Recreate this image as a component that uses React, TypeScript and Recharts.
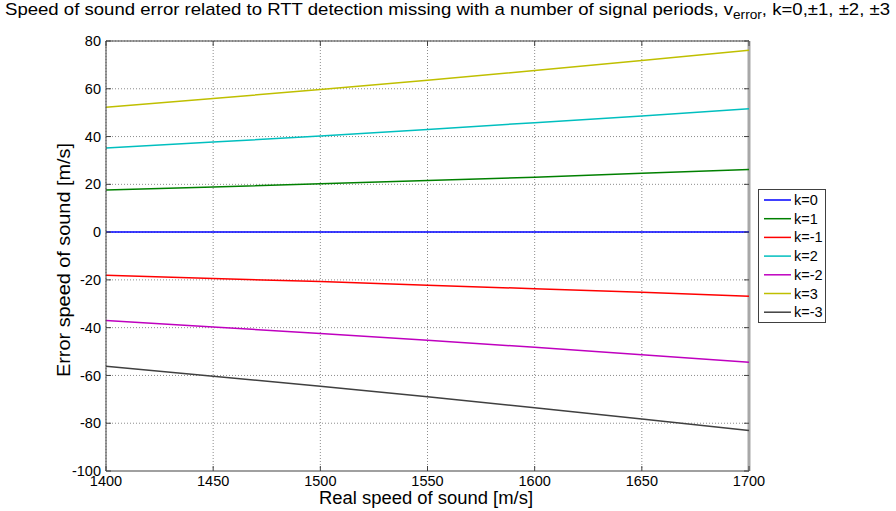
import React from 'react'
import {
  LineChart, Line, XAxis, YAxis, CartesianGrid, Legend, ReferenceLine
} from 'recharts'

// sound speed grid (m/s)
const speeds = [1400, 1450, 1500, 1550, 1600, 1650, 1700]

// error of the speed estimate for each missed-period count k
const kZero = [0, 0, 0, 0, 0, 0, 0]
const kPlus1 = [17.6, 18.9, 20.2, 21.6, 23.0, 24.6, 26.2]
const kMinus1 = [-18.1, -19.4, -20.7, -22.2, -23.7, -25.2, -26.8]
const kPlus2 = [35.2, 37.7, 40.2, 43.0, 45.8, 48.6, 51.6]
const kMinus2 = [-37.0, -39.7, -42.4, -45.3, -48.2, -51.3, -54.5]
const kPlus3 = [52.3, 55.9, 59.7, 63.6, 67.6, 71.8, 76.1]
const kMinus3 = [-56.2, -60.3, -64.5, -68.9, -73.5, -78.2, -83.0]

const xTicks = [1400, 1450, 1500, 1550, 1600, 1650, 1700]
const yTicks = [-100, -80, -60, -40, -20, 0, 20, 40, 60, 80]

const series = [
  { key: 'k0', name: 'k=0', values: kZero, color: '#0000ff' },
  { key: 'k1', name: 'k=1', values: kPlus1, color: '#008000' },
  { key: 'km1', name: 'k=-1', values: kMinus1, color: '#ff0000' },
  { key: 'k2', name: 'k=2', values: kPlus2, color: '#00bfbf' },
  { key: 'km2', name: 'k=-2', values: kMinus2, color: '#bf00bf' },
  { key: 'k3', name: 'k=3', values: kPlus3, color: '#bfbf00' },
  { key: 'km3', name: 'k=-3', values: kMinus3, color: '#404040' },
]

const rows = speeds.map((v, i) => {
  const row: Record<string, number> = { v }
  series.forEach(s => { row[s.key] = s.values[i] })
  return row
})

const W = 896
const H = 511
const M = { top: 41, right: 147, bottom: 0, left: 46 }
const Y_AXIS_W = 60
const X_AXIS_H = 40
const PLOT_W = W - M.left - Y_AXIS_W - M.right
const PLOT_H = H - M.top - X_AXIS_H
const FONT = '"Liberation Sans", Arial, sans-serif'
const TICK_LEN = 5
const TICK_GAP = 5
const LEG_W = 68
const LEG_H = 134
const LEG_ROW = 18.7

function YTick({ x, y, payload }: any) {
  const ax = x + TICK_GAP
  return (
    <g>
      <line x1={ax} x2={ax + TICK_LEN} y1={y} y2={y} stroke="#404040" />
      <line x1={ax + PLOT_W - TICK_LEN} x2={ax + PLOT_W} y1={y} y2={y} stroke="#404040" />
      <text x={x} y={y} dy="0.35em" textAnchor="end" fontSize={14.5} fill="#000" fontFamily={FONT}>
        {payload.value}
      </text>
    </g>
  )
}

function XTick({ x, y, payload }: any) {
  const ay = y - TICK_GAP
  return (
    <g>
      <line x1={x} x2={x} y1={ay} y2={ay - TICK_LEN} stroke="#404040" />
      <line x1={x} x2={x} y1={ay - PLOT_H} y2={ay - PLOT_H + TICK_LEN} stroke="#404040" />
      <text x={x} y={y} dy="0.71em" textAnchor="middle" fontSize={14.5} fill="#000" fontFamily={FONT}>
        {payload.value}
      </text>
    </g>
  )
}

function LegendBox() {
  return (
    <svg width={LEG_W} height={LEG_H} style={{ display: 'block' }}>
      <rect x={0.5} y={0.5} width={LEG_W - 1} height={LEG_H - 1} fill="#fff" stroke="#404040" />
      {series.map((s, i) => {
        const cy = 11 + i * LEG_ROW
        return (
          <g key={s.key}>
            <line x1={6} x2={33} y1={cy} y2={cy} stroke={s.color} strokeWidth={1.5} />
            <text x={36} y={cy} dy="0.35em" fontSize={14.5} fontFamily={FONT} fill="#000">{s.name}</text>
          </g>
        )
      })}
    </svg>
  )
}

export default function App() {
  return (
    <div style={{ position: 'absolute', left: 0, top: 0, width: W, height: H, background: '#fff' }}>
      <LineChart width={W} height={H} data={rows} margin={M}>
        <CartesianGrid stroke="#8c8c8c" strokeDasharray="1 2" />
        <XAxis
          dataKey="v" type="number" domain={[1400, 1700]} ticks={xTicks}
          height={X_AXIS_H} tickSize={0} tickMargin={TICK_GAP} tick={<XTick />}
          axisLine={{ stroke: '#a0a0a0', strokeWidth: 2 }} tickLine={false}
        />
        <YAxis
          type="number" domain={[-100, 80]} ticks={yTicks} width={Y_AXIS_W}
          tickSize={0} tickMargin={TICK_GAP} tick={<YTick />}
          axisLine={{ stroke: '#404040' }} tickLine={false}
        />
        <ReferenceLine y={80} stroke="#404040" />
        <ReferenceLine x={1700} stroke="#a8a8a8" strokeWidth={3} />
        <Legend
          layout="vertical" align="center" verticalAlign="middle"
          content={<LegendBox />}
          wrapperStyle={{ left: 758, top: 189, width: LEG_W }}
        />
        {series.map(s => (
          <Line
            key={s.key} dataKey={s.key} name={s.name} stroke={s.color}
            strokeWidth={1.5} dot={false} isAnimationActive={false}
          />
        ))}
      </LineChart>
      <svg width={W} height={H} style={{ position: 'absolute', left: 0, top: 0, pointerEvents: 'none' }}>
        <text
          x={5} y={15} fontSize={17} fontFamily={FONT} fill="#000"
          textLength={885} lengthAdjust="spacingAndGlyphs"
        >
          Speed of sound error related to RTT detection missing with a number of signal periods, v
          <tspan fontSize={12.5} dy={4}>error</tspan>
          <tspan dy={-4}>, k=0,±1, ±2, ±3</tspan>
        </text>
        <text
          x={319} y={504} fontSize={17.5} fontFamily={FONT} fill="#000"
          textLength={214} lengthAdjust="spacingAndGlyphs"
        >
          Real speed of sound [m/s]
        </text>
        <text
          x={0} y={0} fontSize={17.5} fontFamily={FONT} fill="#000"
          textLength={234} lengthAdjust="spacingAndGlyphs"
          transform="translate(70 377) rotate(-90)"
        >
          Error speed of sound [m/s]
        </text>
      </svg>
    </div>
  )
}
